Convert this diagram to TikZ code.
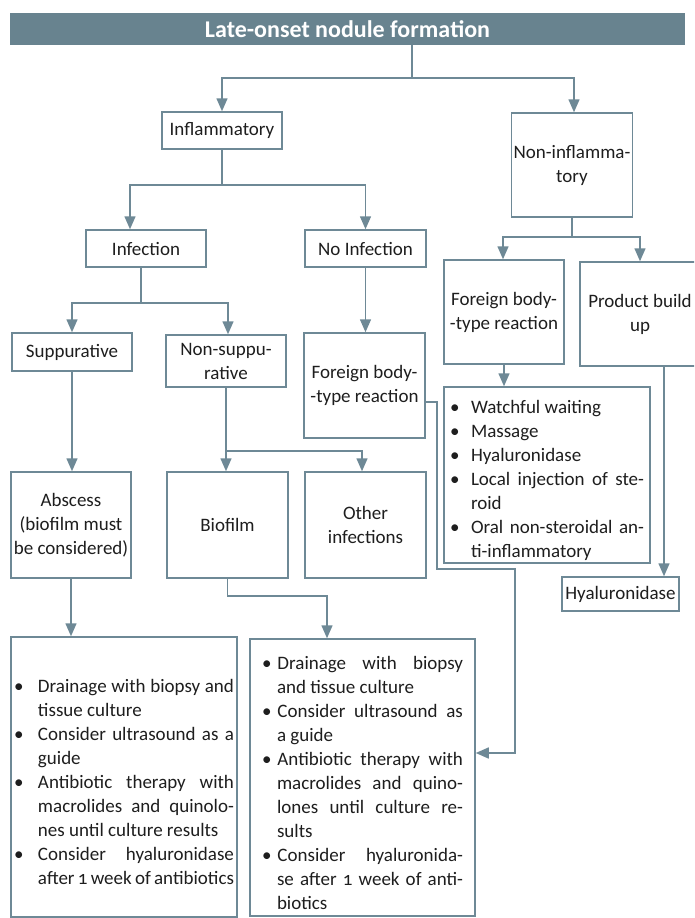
\documentclass[tikz,border=0pt]{standalone}
\usepackage{fontspec}
\setmainfont{Carlito}[Numbers=OldStyle]
\usepackage{enumitem}
\usetikzlibrary{arrows.meta}
\definecolor{slate}{RGB}{110,137,150}
\definecolor{bar}{RGB}{104,131,143}
\definecolor{ink}{RGB}{30,30,30}
\setlist[itemize]{label=\textbullet, align=left, labelindent=0pt, itemsep=0pt, topsep=0pt, parsep=0pt, partopsep=0pt}

\begin{document}
\begin{tikzpicture}[x=1pt, y=-1pt,
  box/.style={draw=slate, line width=1.5pt, text=ink, align=center, inner sep=2pt, font=\fontsize{19}{24}\selectfont},
  list/.style={box, align=justify, inner ysep=0pt},
  arr/.style={-{Triangle[length=13pt, width=11pt]}, draw=slate, line width=1.5pt},
  link/.style={draw=slate, line width=1.5pt},
]
\useasboundingbox (0,0) rectangle (694,918);
\clip (0,0) rectangle (694,918);
\fill[white] (0,0) rectangle (694,918);

% ===== title bar =====
\node[fill=bar, minimum width=675pt, minimum height=32pt, text=white, font=\fontsize{24}{28}\selectfont\bfseries] (title) at (347.5,29) {Late-onset nodule forma\kern0pt tion};

% ===== inflammatory branch =====
\node[box, minimum width=120pt, minimum height=37pt] (infl) at (222,130.5) {Inflammatory};
\node[box, minimum width=120pt, minimum height=37pt] (infect) at (146,248.5) {Infection};
\node[box, minimum width=121pt, minimum height=37pt] (noinfect) at (365.5,248.5) {No Infection};
\node[box, minimum width=120pt, minimum height=38pt] (supp) at (72,352) {Suppurative};
\node[box, minimum width=120pt, minimum height=52pt] (nonsupp) at (226,361) {Non-suppu-\\rative};
\node[box, minimum width=121pt, minimum height=105pt] (fbm) at (364.5,385.5) {Foreign body-\\-type reaction};
\node[box, minimum width=120pt, minimum height=106pt] (absc) at (71,525) {Abscess\\(biofilm must\\be considered)};
\node[box, minimum width=121pt, minimum height=106pt] (biof) at (227.5,525) {Biofilm};
\node[box, minimum width=121pt, minimum height=106pt] (other) at (365.5,525) {Other\\infections};

% ===== non-inflammatory branch =====
\node[box, minimum width=120pt, minimum height=104pt] (noninfl) at (572,165) {Non-inflamma-\\tory};
\node[box, minimum width=120pt, minimum height=104pt] (fbr) at (504,312) {Foreign body-\\-type reaction};
\node[box, minimum width=120pt, minimum height=104pt] (build) at (640,314) {Product build\\up};
\node[box, minimum width=117pt, minimum height=34pt] (hyal) at (620.5,594) {Hyaluronidase};

% ===== treatment lists =====
\node[list, text width=194pt, inner xsep=6pt, minimum height=176pt] (care) at (547,475) {%
  \begin{itemize}[leftmargin=21pt, labelwidth=13pt, labelsep=8pt]
  \item Watchful waiting
  \item Massage
  \item Hyaluronidase
  \item Local injection of ste-\linebreak roid
  \item Oral non-steroidal an-\linebreak ti-inflammatory
  \end{itemize}};
\node[list, text width=220pt, inner xsep=3pt, minimum height=280pt] (treatA) at (124,777) {%
  \begin{itemize}[leftmargin=24pt, labelwidth=16pt, labelsep=8pt]
  \item Drainage with biopsy and\linebreak tissue culture
  \item Consider ultrasound as a\linebreak guide
  \item Antibiotic therapy with\linebreak macrolides and quinolo-\linebreak nes until culture results
  \item Consider hyaluronidase\linebreak after 1 week of antibiotics
  \end{itemize}};
\node[list, text width=201pt, inner xsep=12pt, minimum height=277pt] (treatB) at (362.5,777.5) {%
  \begin{itemize}[leftmargin=15pt, labelwidth=9pt, labelsep=6pt]
  \item Drainage with biopsy\linebreak and tissue culture
  \item Consider ultrasound as\linebreak a guide
  \item Antibiotic therapy with\linebreak macrolides and quino-\linebreak lones until culture re-\linebreak sults
  \item Consider hyaluronida-\linebreak se after 1 week of anti-\linebreak biotics
  \end{itemize}};

% ===== connectors =====
\coordinate (j1) at (412,78);
\draw[link] (title.south -| j1) -- (j1);
\draw[arr] (j1) -| (infl.north);
\draw[arr] (j1) -| ([xshift=2pt]noninfl.north);

\coordinate (j2) at (222,185);
\draw[link] (infl.south) -- (j2);
\draw[arr] (j2) -| ([xshift=-16pt]infect.north);
\draw[arr] (j2) -| (noinfect.north);

\coordinate (j3) at (572,237);
\draw[link] (noninfl.south) -- (j3);
\draw[arr] (j3) -| ([xshift=-1pt]fbr.north);
\draw[arr] (j3) -| (build.north);

\coordinate (j4) at (141,303);
\draw[link] ([xshift=-5pt]infect.south) -- (j4);
\draw[arr] (j4) -| (supp.north);
\draw[arr] (j4) -| ([xshift=2pt]nonsupp.north);

\draw[arr] (noinfect.south) -- (noinfect.south |- fbm.north);

\coordinate (j5) at (226,451);
\draw[link] (nonsupp.south) -- (j5);
\draw[arr] (j5) -| ([xshift=-1.5pt]biof.north);
\draw[arr] (j5) -| ([xshift=-3.5pt]other.north);

\draw[arr] (supp.south) -- (supp.south |- absc.north);
\draw[arr] (fbr.south) -- (fbr.south |- care.north);
\draw[arr] ([xshift=24pt]build.south) -- ([xshift=24pt]build.south |- hyal.north);
\draw[arr] (absc.south) -- (absc.south |- treatA.north);

\coordinate (j6) at (327,596);
\draw[arr] (biof.south) |- (j6) -- (j6 |- treatB.north);

% foreign body (no infection) -> second list
\coordinate (k1) at (437,402);
\coordinate (k2) at (515,569);
\draw[arr] ([yshift=-16.5pt]fbm.east) -- (k1) |- (k2) |- ([yshift=24.5pt]treatB.east);

\end{tikzpicture}
\end{document}
